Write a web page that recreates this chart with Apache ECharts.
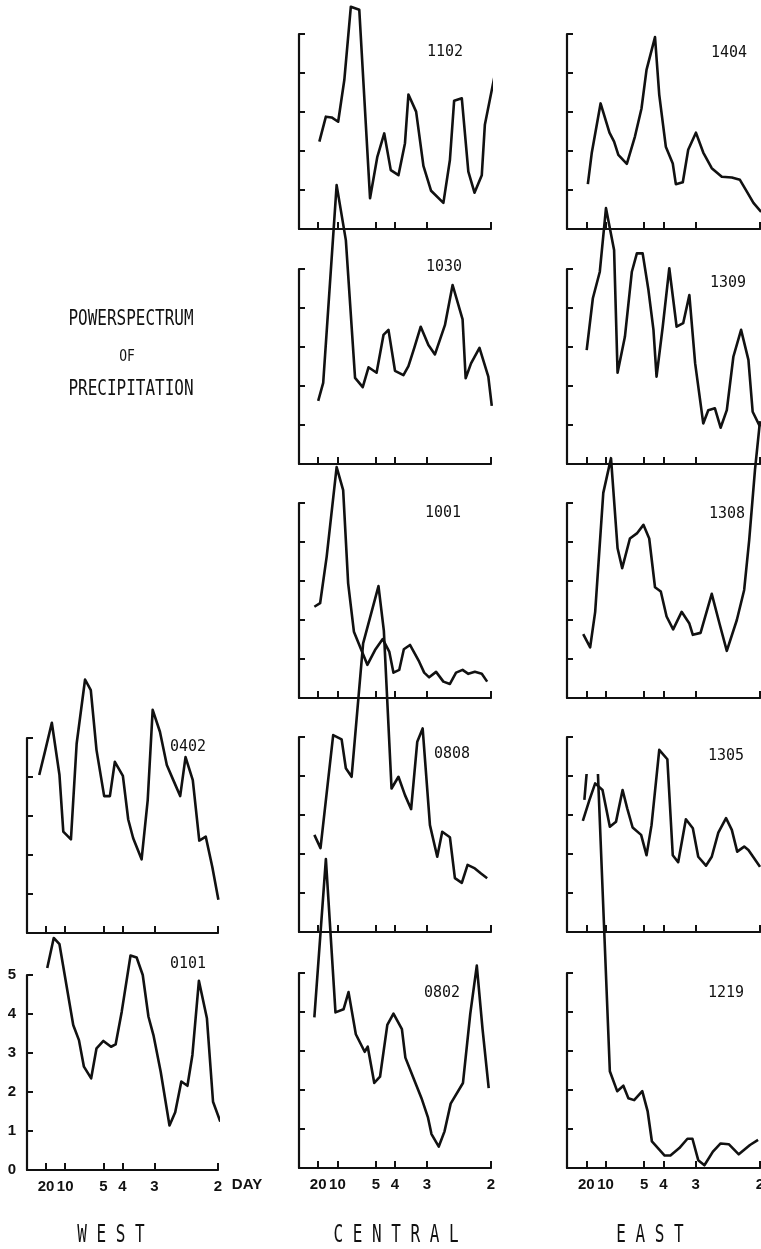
<!DOCTYPE html>
<html>
<head>
<meta charset="utf-8">
<script src="https://cdn.jsdelivr.net/npm/echarts@6/dist/echarts.min.js"></script>
<style>
  html, body { margin: 0; padding: 0; background: #fff; }
  #chart { width: 761px; height: 1249px; }
</style>
</head>
<body>
<div id="chart"></div>
<script>
// frequency (cycles / day) of each estimate, and the spectral power
const freq0402 = [0.032, 0.047, 0.065, 0.085, 0.095, 0.115, 0.130, 0.152, 0.167, 0.182, 0.202, 0.217, 0.230, 0.251, 0.265, 0.278, 0.300, 0.316, 0.329, 0.348, 0.366, 0.383, 0.401, 0.415, 0.434, 0.451, 0.468, 0.485, 0.501]
const pow0402 = [4.05, 4.65, 5.39, 4.05, 2.60, 2.40, 4.86, 6.50, 6.23, 4.69, 3.51, 3.51, 4.39, 4.03, 2.91, 2.43, 1.89, 3.41, 5.72, 5.16, 4.31, 3.92, 3.51, 4.51, 3.92, 2.37, 2.47, 1.70, 0.85]

const freq0101 = [0.053, 0.070, 0.085, 0.121, 0.136, 0.149, 0.168, 0.182, 0.200, 0.220, 0.232, 0.248, 0.271, 0.287, 0.303, 0.318, 0.331, 0.350, 0.373, 0.388, 0.404, 0.420, 0.433, 0.450, 0.471, 0.487, 0.506]
const pow0101 = [5.18, 5.95, 5.79, 3.72, 3.33, 2.65, 2.35, 3.12, 3.31, 3.16, 3.22, 4.06, 5.50, 5.45, 5.00, 3.93, 3.46, 2.52, 1.14, 1.48, 2.27, 2.16, 2.95, 4.85, 3.89, 1.75, 1.24]

const freq1102 = [0.053, 0.070, 0.085, 0.102, 0.118, 0.135, 0.157, 0.185, 0.204, 0.222, 0.239, 0.259, 0.276, 0.285, 0.305, 0.324, 0.344, 0.376, 0.393, 0.404, 0.424, 0.441, 0.457, 0.476, 0.484, 0.509]
const pow1102 = [2.24, 2.88, 2.86, 2.75, 3.82, 5.70, 5.62, 0.79, 1.85, 2.45, 1.51, 1.38, 2.20, 3.45, 3.01, 1.62, 0.98, 0.67, 1.77, 3.29, 3.35, 1.47, 0.93, 1.38, 2.67, 3.91]

const freq1030 = [0.050, 0.063, 0.098, 0.122, 0.146, 0.166, 0.181, 0.202, 0.220, 0.233, 0.250, 0.272, 0.285, 0.300, 0.317, 0.337, 0.354, 0.380, 0.400, 0.426, 0.434, 0.448, 0.470, 0.493, 0.502]
const pow1030 = [1.62, 2.08, 7.15, 5.74, 2.21, 1.97, 2.48, 2.34, 3.31, 3.44, 2.39, 2.28, 2.51, 2.97, 3.52, 3.05, 2.81, 3.56, 4.59, 3.71, 2.20, 2.58, 2.98, 2.24, 1.49]

const freq1001 = [0.040, 0.055, 0.072, 0.098, 0.115, 0.128, 0.143, 0.178, 0.198, 0.218, 0.235, 0.246, 0.261, 0.273, 0.289, 0.313, 0.326, 0.339, 0.357, 0.376, 0.393, 0.409, 0.426, 0.441, 0.458, 0.476, 0.490]
const pow1001 = [2.34, 2.43, 3.62, 5.92, 5.33, 2.94, 1.70, 0.85, 1.23, 1.51, 1.19, 0.65, 0.72, 1.25, 1.36, 0.93, 0.65, 0.53, 0.67, 0.42, 0.36, 0.65, 0.72, 0.62, 0.67, 0.62, 0.42]

const freq0808 = [0.040, 0.056, 0.089, 0.111, 0.122, 0.137, 0.167, 0.207, 0.221, 0.241, 0.259, 0.276, 0.292, 0.308, 0.322, 0.341, 0.360, 0.373, 0.393, 0.406, 0.424, 0.439, 0.458, 0.474, 0.490]
const pow0808 = [2.49, 2.15, 5.05, 4.94, 4.20, 3.98, 7.40, 8.87, 7.72, 3.68, 3.98, 3.51, 3.15, 4.88, 5.22, 2.74, 1.93, 2.57, 2.43, 1.38, 1.26, 1.72, 1.63, 1.50, 1.38]

const freq0802 = [0.040, 0.070, 0.095, 0.116, 0.129, 0.148, 0.171, 0.179, 0.196, 0.211, 0.230, 0.246, 0.268, 0.277, 0.298, 0.319, 0.336, 0.345, 0.364, 0.379, 0.395, 0.427, 0.446, 0.463, 0.478, 0.494]
const pow0802 = [3.86, 7.92, 3.99, 4.07, 4.51, 3.43, 2.98, 3.11, 2.18, 2.34, 3.67, 3.96, 3.56, 2.83, 2.31, 1.79, 1.29, 0.87, 0.55, 0.94, 1.65, 2.18, 3.95, 5.19, 3.56, 2.05]

const freq1404 = [0.054, 0.064, 0.087, 0.110, 0.122, 0.133, 0.155, 0.176, 0.193, 0.206, 0.228, 0.239, 0.256, 0.274, 0.282, 0.300, 0.314, 0.334, 0.353, 0.375, 0.401, 0.427, 0.448, 0.466, 0.483, 0.503]
const pow1404 = [1.15, 1.94, 3.22, 2.47, 2.24, 1.90, 1.67, 2.37, 3.09, 4.08, 4.92, 3.44, 2.11, 1.68, 1.15, 1.20, 2.03, 2.47, 1.96, 1.56, 1.34, 1.32, 1.26, 0.96, 0.67, 0.44]

const freq1309 = [0.051, 0.067, 0.085, 0.101, 0.122, 0.131, 0.150, 0.168, 0.181, 0.196, 0.211, 0.224, 0.232, 0.248, 0.265, 0.284, 0.301, 0.317, 0.332, 0.353, 0.366, 0.383, 0.398, 0.414, 0.431, 0.451, 0.470, 0.481, 0.500]
const pow1309 = [2.92, 4.25, 4.93, 6.56, 5.49, 2.34, 3.26, 4.93, 5.40, 5.40, 4.46, 3.44, 2.24, 3.52, 5.02, 3.52, 3.61, 4.33, 2.58, 1.04, 1.38, 1.43, 0.93, 1.38, 2.75, 3.44, 2.67, 1.34, 0.96]

const freq1308 = [0.042, 0.060, 0.073, 0.094, 0.114, 0.131, 0.143, 0.163, 0.181, 0.198, 0.213, 0.228, 0.243, 0.258, 0.275, 0.297, 0.317, 0.326, 0.346, 0.375, 0.395, 0.414, 0.440, 0.459, 0.472, 0.487, 0.500]
const pow1308 = [1.64, 1.30, 2.21, 5.26, 6.15, 3.84, 3.33, 4.09, 4.22, 4.44, 4.09, 2.84, 2.73, 2.09, 1.76, 2.21, 1.91, 1.62, 1.67, 2.67, 1.91, 1.21, 2.00, 2.77, 4.05, 5.85, 7.10]

const freq1305 = [0.041, 0.058, 0.073, 0.092, 0.111, 0.127, 0.144, 0.156, 0.170, 0.192, 0.206, 0.219, 0.239, 0.260, 0.274, 0.288, 0.308, 0.326, 0.340, 0.360, 0.375, 0.392, 0.412, 0.427, 0.441, 0.459, 0.470, 0.491, 0.500]
const pow1305 = [2.85, 3.38, 3.81, 3.64, 2.70, 2.83, 3.64, 3.17, 2.68, 2.49, 1.97, 2.74, 4.67, 4.43, 1.97, 1.79, 2.89, 2.66, 1.93, 1.70, 1.93, 2.55, 2.92, 2.62, 2.06, 2.19, 2.10, 1.80, 1.67]

const freq1219 = [0.045, 0.058, 0.075, 0.111, 0.130, 0.146, 0.159, 0.174, 0.195, 0.209, 0.220, 0.253, 0.268, 0.291, 0.312, 0.325, 0.340, 0.356, 0.378, 0.398, 0.419, 0.445, 0.474, 0.495]
const pow1219 = [9.44, 10.93, 11.38, 2.48, 1.97, 2.11, 1.79, 1.74, 1.97, 1.45, 0.68, 0.32, 0.32, 0.51, 0.75, 0.75, 0.20, 0.07, 0.42, 0.63, 0.61, 0.35, 0.59, 0.72]

// period axis: ticks sit at these frequencies, labelled in days
const tickFreq = [0.05, 0.1, 0.2, 0.25, 0.3333, 0.5]
const tickLabels = ['20', '10', '5', '4', '3', '2']

// panel layout (px): left edge, width, baseline, and where the station number goes
const cols = { W: [27, 191], C: [299, 192], E: [567, 193] }
const panels = [
  { name: '0402', col: 'W', base: 933, f: freq0402, v: pow0402, lab: [188, 747] },
  { name: '0101', col: 'W', base: 1170, f: freq0101, v: pow0101, lab: [188, 964], yLabels: true, xLabels: true },
  { name: '1102', col: 'C', base: 229, f: freq1102, v: pow1102, lab: [445, 52] },
  { name: '1030', col: 'C', base: 464, f: freq1030, v: pow1030, lab: [444, 267] },
  { name: '1001', col: 'C', base: 698, f: freq1001, v: pow1001, lab: [443, 513] },
  { name: '0808', col: 'C', base: 932, f: freq0808, v: pow0808, lab: [452, 754] },
  { name: '0802', col: 'C', base: 1168, f: freq0802, v: pow0802, lab: [442, 993], xLabels: true },
  { name: '1404', col: 'E', base: 229, f: freq1404, v: pow1404, lab: [729, 53] },
  { name: '1309', col: 'E', base: 464, f: freq1309, v: pow1309, lab: [728, 283] },
  { name: '1308', col: 'E', base: 698, f: freq1308, v: pow1308, lab: [727, 514] },
  { name: '1305', col: 'E', base: 932, f: freq1305, v: pow1305, lab: [726, 756] },
  { name: '1219', col: 'E', base: 1168, f: freq1219, v: pow1219, lab: [726, 993], xLabels: true }
]

const PANEL_H = 195
const ink = '#111'
const labelFamily = "'Liberation Sans Narrow', 'Liberation Sans', sans-serif"

const grid = [], xAxis = [], yAxis = [], series = [], graphic = []

panels.forEach((p, i) => {
  const [left, width] = cols[p.col]
  grid.push({ left: left, top: p.base - PANEL_H, width: width, height: PANEL_H,
    containLabel: false, outerBoundsMode: 'none' })
  xAxis.push({
    type: 'value', gridIndex: i, min: 0, max: 0.5,
    axisLine: { show: true, onZero: false, lineStyle: { color: ink, width: 2.2 } },
    axisTick: { show: true, inside: true, length: 7, customValues: tickFreq, lineStyle: { color: ink, width: 2 } },
    axisLabel: {
      show: !!p.xLabels, customValues: tickFreq, margin: 9,
      color: ink, fontSize: 15, fontWeight: 'bold', fontFamily: labelFamily,
      formatter: val => {
        const k = tickFreq.findIndex(t => Math.abs(t - val) < 1e-3)
        return k >= 0 ? tickLabels[k] : ''
      }
    },
    splitLine: { show: false }
  })
  yAxis.push({
    type: 'value', gridIndex: i, min: 0, max: 5, interval: 1,
    axisLine: { show: true, onZero: false, lineStyle: { color: ink, width: 2.2 } },
    axisTick: { show: true, inside: true, length: 6, lineStyle: { color: ink, width: 2 } },
    axisLabel: { show: !!p.yLabels, margin: 11, color: ink, fontSize: 15, fontWeight: 'bold',
      fontFamily: labelFamily },
    splitLine: { show: false }
  })
  series.push({
    name: p.name, type: 'line', xAxisIndex: i, yAxisIndex: i,
    data: p.f.map((f, k) => [f, p.v[k]]),
    symbol: 'none', clip: false, silent: true,
    lineStyle: { color: ink, width: 2.6, join: 'round' }
  })
  graphic.push({
    type: 'text', x: p.lab[0], y: p.lab[1], scaleY: 1.1,
    style: { text: p.name, fill: ink, font: "15px 'DejaVu Sans Mono', monospace",
      textAlign: 'center', textVerticalAlign: 'middle', align: 'center', verticalAlign: 'middle' }
  })
})

// free text: title block, unit, region names
const texts = [
  { t: 'POWERSPECTRUM', x: 131, y: 320, font: "16px 'DejaVu Sans Mono', monospace", sy: 1.3 },
  { t: 'OF', x: 127, y: 357, font: "13px 'DejaVu Sans Mono', monospace", sy: 1.2 },
  { t: 'PRECIPITATION', x: 131, y: 390, font: "16px 'DejaVu Sans Mono', monospace", sy: 1.3 },
  { t: 'DAY', x: 247, y: 1185, font: "bold 15px " + labelFamily, sy: 1 },
  { t: 'W E S T', x: 111, y: 1236, font: "16px 'DejaVu Sans Mono', monospace", sy: 1.5 },
  { t: 'C E N T R A L', x: 396, y: 1236, font: "16px 'DejaVu Sans Mono', monospace", sy: 1.5 },
  { t: 'E A S T', x: 650, y: 1236, font: "16px 'DejaVu Sans Mono', monospace", sy: 1.5 }
]
texts.forEach(s => graphic.push({
  type: 'text', x: s.x, y: s.y, scaleY: s.sy,
  style: { text: s.t, fill: ink, font: s.font,
    textAlign: 'center', textVerticalAlign: 'middle', align: 'center', verticalAlign: 'middle' }
}))

const chart = echarts.init(document.getElementById('chart'), null, { renderer: 'canvas' })
chart.setOption({
  animation: false,
  backgroundColor: '#fff',
  grid, xAxis, yAxis, series, graphic
})
</script>
</body>
</html>
